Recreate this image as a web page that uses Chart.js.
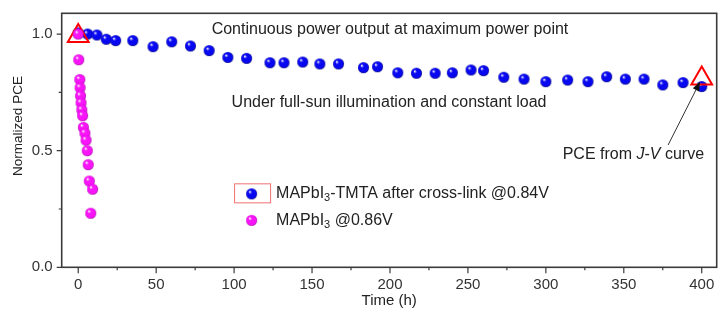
<!DOCTYPE html>
<html>
<head>
<meta charset="utf-8">
<script src="https://cdn.jsdelivr.net/npm/chart.js@4"></script>
<style>
  body { margin: 0; background: #fff; }
  canvas { display: block; }
</style>
</head>
<body>
<canvas id="pceChart" width="718" height="312"></canvas>
<script>
// MAPbI3-TMTA after cross-link @0.84V
const timeTMTA = [0, 6, 12, 18, 24, 35, 48, 60, 72, 84, 96, 108, 123, 132, 144, 155, 167, 183, 192, 205, 217, 229, 240, 252, 260, 273, 286, 300, 314, 327, 339, 351, 363, 375, 388, 400];
const pceTMTA  = [1.005, 1.0, 0.996, 0.978, 0.972, 0.972, 0.946, 0.967, 0.949, 0.929, 0.9, 0.896, 0.877, 0.877, 0.88, 0.872, 0.872, 0.856, 0.86, 0.834, 0.832, 0.832, 0.834, 0.846, 0.843, 0.815, 0.807, 0.796, 0.803, 0.796, 0.817, 0.807, 0.807, 0.782, 0.792, 0.775];

// MAPbI3 @0.86V
const timeMAPbI = [0, 0.3, 1, 1.2, 1.5, 1.8, 2.3, 2.8, 3.3, 4.3, 5, 5.8, 6.4, 7.1, 9.2, 8];
const pceMAPbI  = [1.0, 0.89, 0.805, 0.77, 0.735, 0.705, 0.675, 0.65, 0.6, 0.575, 0.545, 0.5, 0.44, 0.37, 0.335, 0.232];

// PCE from J-V curve (triangles)
const timeJV = [0, 400];
const pceJV  = [0.992, 0.809];

// ticks
const xMajor = [0, 50, 100, 150, 200, 250, 300, 350, 400];
const xMinor = [25, 75, 125, 175, 225, 275, 325, 375];
const yMajor = [0, 0.5, 1.0];
const yMinor = [0.25, 0.75];

const FONT = '"Liberation Sans", Arial, sans-serif';

// shaded ball used as point marker
function sphere(r, base, dark) {
  const c = document.createElement('canvas');
  c.width = c.height = 2 * r + 2;
  const g = c.getContext('2d');
  const m = r + 1;
  const grad = g.createRadialGradient(m - r * 0.35, m - r * 0.4, r * 0.05, m, m, r);
  grad.addColorStop(0, '#ffffff');
  grad.addColorStop(0.3, base);
  grad.addColorStop(0.85, base);
  grad.addColorStop(1, dark);
  g.fillStyle = grad;
  g.beginPath();
  g.arc(m, m, r, 0, Math.PI * 2);
  g.fill();
  return c;
}
const blueBall = sphere(5.5, '#0808f0', '#000078');
const pinkBall = sphere(5.5, '#f814f8', '#a000a0');

const toXY = (xs, ys) => xs.map((x, i) => ({ x: x, y: ys[i] }));

function textRuns(ctx, x, y, runs, size) {
  // runs: [text, style] style: 'n' normal, 'i' italic, 's' subscript
  runs.forEach(([t, s]) => {
    if (s === 's') {
      ctx.font = Math.round(size * 0.68) + 'px ' + FONT;
      ctx.fillText(t, x, y + 5);
    } else {
      ctx.font = (s === 'i' ? 'italic ' : '') + size + 'px ' + FONT;
      ctx.fillText(t, x, y);
    }
    x += ctx.measureText(t).width;
  });
}

const decorations = {
  id: 'decorations',
  beforeDatasetsDraw(chart) {
    const { ctx, chartArea: a, scales: { x, y } } = chart;
    ctx.save();
    // frame
    ctx.strokeStyle = '#3a3a3a';
    ctx.lineWidth = 1.6;
    ctx.strokeRect(a.left, a.top, a.right - a.left, a.bottom - a.top);
    // tick marks
    ctx.lineWidth = 1.2;
    ctx.beginPath();
    xMajor.forEach(v => { const p = x.getPixelForValue(v); ctx.moveTo(p, a.bottom); ctx.lineTo(p, a.bottom + 6); });
    xMinor.forEach(v => { const p = x.getPixelForValue(v); ctx.moveTo(p, a.bottom); ctx.lineTo(p, a.bottom + 3); });
    yMajor.forEach(v => { const p = y.getPixelForValue(v); ctx.moveTo(a.left, p); ctx.lineTo(a.left - 5, p); });
    yMinor.forEach(v => { const p = y.getPixelForValue(v); ctx.moveTo(a.left, p); ctx.lineTo(a.left - 3, p); });
    ctx.stroke();
    ctx.restore();
  },
  afterDatasetsDraw(chart) {
    const { ctx, chartArea: a, scales: { x, y } } = chart;
    const px = v => x.getPixelForValue(v);
    const py = v => y.getPixelForValue(v);
    ctx.save();
    ctx.fillStyle = '#222';
    ctx.textBaseline = 'middle';
    ctx.textAlign = 'left';

    textRuns(ctx, px(85.6), py(1.021), [['Continuous power output at maximum power point', 'n']], 16);
    textRuns(ctx, px(98.4), py(0.707), [['Under full-sun illumination and constant load', 'n']], 16);
    textRuns(ctx, px(310.8), py(0.482), [['PCE from ', 'n'], ['J', 'i'], ['-', 'n'], ['V', 'i'], [' curve', 'n']], 16);

    // arrow to the last point
    const x0 = px(378.4), y0 = py(0.524), x1 = px(398.9), y1 = py(0.795);
    const ang = Math.atan2(y1 - y0, x1 - x0);
    ctx.strokeStyle = '#333';
    ctx.lineWidth = 1;
    ctx.beginPath();
    ctx.moveTo(x0, y0);
    ctx.lineTo(x1 - 6 * Math.cos(ang), y1 - 6 * Math.sin(ang));
    ctx.stroke();
    ctx.fillStyle = '#111';
    ctx.beginPath();
    ctx.moveTo(x1, y1);
    ctx.lineTo(x1 - 9 * Math.cos(ang) + 3.5 * Math.sin(ang), y1 - 9 * Math.sin(ang) - 3.5 * Math.cos(ang));
    ctx.lineTo(x1 - 9 * Math.cos(ang) - 3.5 * Math.sin(ang), y1 - 9 * Math.sin(ang) + 3.5 * Math.cos(ang));
    ctx.closePath();
    ctx.fill();

    // legend
    const lx = px(100), ly = py(0.36);
    ctx.strokeStyle = '#f07070';
    ctx.lineWidth = 1;
    ctx.strokeRect(lx + 0.5, ly + 0.5, 36, 19);
    ctx.drawImage(blueBall, lx + 17.5 - blueBall.width / 2, ly + 10.5 - blueBall.height / 2);
    ctx.drawImage(pinkBall, lx + 17.5 - pinkBall.width / 2, ly + 37 - pinkBall.height / 2);
    ctx.fillStyle = '#222';
    textRuns(ctx, lx + 42, ly + 10, [['MAPbI', 'n'], ['3', 's'], ['-TMTA after cross-link @0.84V', 'n']], 16);
    textRuns(ctx, lx + 42, ly + 37, [['MAPbI', 'n'], ['3', 's'], [' @0.86V', 'n']], 16);

    // axis titles
    ctx.textAlign = 'center';
    ctx.font = '15px ' + FONT;
    ctx.fillText('Time (h)', (a.left + a.right) / 2, 301);
    ctx.font = '13.5px ' + FONT;
    ctx.translate(18, 126);
    ctx.rotate(-Math.PI / 2);
    ctx.fillText('Normalized PCE', 0, 0);
    ctx.restore();
  }
};

new Chart(document.getElementById('pceChart'), {
  type: 'scatter',
  data: {
    datasets: [
      {
        label: 'MAPbI3 @0.86V',
        data: toXY(timeMAPbI, pceMAPbI),
        pointStyle: pinkBall,
        order: 0
      },
      {
        label: 'PCE from J-V curve',
        data: toXY(timeJV, pceJV),
        pointStyle: 'triangle',
        pointRadius: 12,
        borderColor: '#ff0000',
        borderWidth: 2,
        backgroundColor: 'rgba(0,0,0,0)',
        order: 1
      },
      {
        label: 'MAPbI3-TMTA after cross-link @0.84V',
        data: toXY(timeTMTA, pceTMTA),
        pointStyle: blueBall,
        order: 2
      }
    ]
  },
  options: {
    responsive: false,
    animation: false,
    layout: { autoPadding: false, padding: { top: 13.3, right: 1.3, left: 0, bottom: 0 } },
    plugins: { legend: { display: false }, tooltip: { enabled: false } },
    scales: {
      x: {
        type: 'linear',
        min: -10.6,
        max: 409.6,
        afterFit: s => { s.height = 44.7; s.paddingLeft = 0; s.paddingRight = 0; },
        afterBuildTicks: s => { s.ticks = xMajor.map(v => ({ value: v })); },
        border: { display: false },
        grid: { drawOnChartArea: false, tickLength: 6, tickColor: 'rgba(0,0,0,0)' },
        ticks: { color: '#333', padding: 3, font: { family: FONT, size: 15 }, maxRotation: 0 }
      },
      y: {
        min: 0,
        max: 1.089,
        afterFit: s => { s.width = 61.7; s.paddingTop = 0; s.paddingBottom = 0; },
        afterBuildTicks: s => { s.ticks = yMajor.map(v => ({ value: v })); },
        border: { display: false },
        grid: { drawOnChartArea: false, tickLength: 6, tickColor: 'rgba(0,0,0,0)' },
        ticks: { color: '#333', padding: 3, font: { family: FONT, size: 15 }, callback: v => v.toFixed(1) }
      }
    }
  },
  plugins: [decorations]
});
</script>
</body>
</html>
